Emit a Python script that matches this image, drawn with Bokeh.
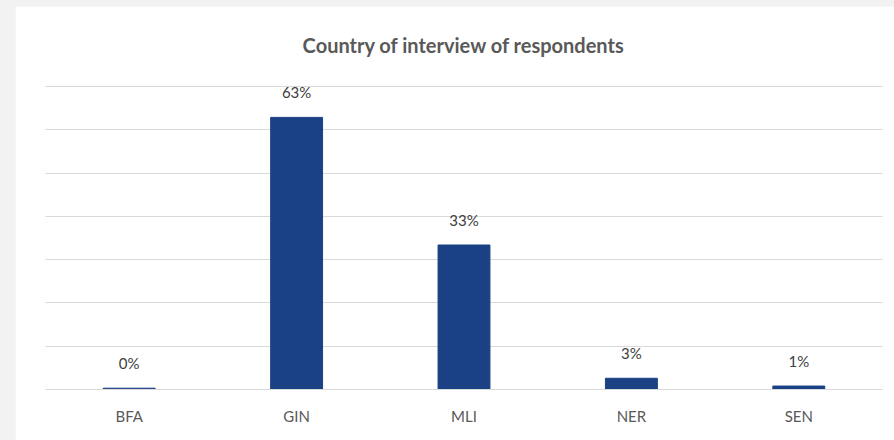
from bokeh.plotting import figure
from bokeh.models import ColumnDataSource, FixedTicker
from bokeh.layouts import column
from bokeh.embed import file_html
from bokeh.resources import INLINE
from bokeh.core.properties import value

# ---- data ----
countries = ["BFA", "GIN", "MLI", "NER", "SEN"]
shares = [0.3, 62.9, 33.4, 2.6, 0.8]
share_labels = [f"{round(v)}%" for v in shares]
y_ticks = [0, 10, 20, 30, 40, 50, 60, 70]

FONT = "Lato"
BAR = "#1b4185"
GRID = "#d9d9d9"

src = ColumnDataSource(dict(c=countries, v=shares, lab=share_labels))

p = figure(
    x_range=countries, y_range=(0, 70.5),
    width=879, height=434,
    output_backend="svg", toolbar_location=None,
    min_border_left=30, min_border_right=12,
    min_border_top=78, min_border_bottom=51,
    background_fill_color="white", border_fill_color="white",
    title="Country of interview of respondents",
)
p.margin = (6, 0, 0, 15)
p.outline_line_color = None

p.title.align = "center"
p.title.vertical_align = "top"
p.title.text_font = FONT
p.title.text_font_size = "20px"
p.title.text_font_style = "bold"
p.title.text_color = "#595959"
p.title.standoff = 51

p.vbar(x="c", top="v", width=0.31, source=src, color=BAR)
p.text(x="c", y="v", text="lab", source=src, y_offset=-16,
       text_align="center", text_baseline="bottom",
       text_font=value(FONT), text_font_size="15px", text_color="#404040")

p.xgrid.visible = False
p.ygrid.ticker = FixedTicker(ticks=y_ticks)
p.ygrid.grid_line_color = GRID
p.ygrid.grid_line_width = 1
p.yaxis.visible = False

p.xaxis.axis_line_color = GRID
p.xaxis.major_tick_line_color = None
p.xaxis.minor_tick_line_color = None
p.xaxis.major_tick_out = 0
p.xaxis.major_label_standoff = 17
p.xaxis.major_label_text_font = FONT
p.xaxis.major_label_text_font_size = "15px"
p.xaxis.major_label_text_color = "#595959"

layout = column(p, styles={"background-color": "#f2f2f2"})

open("out.html", "w").write(file_html(layout, INLINE))
